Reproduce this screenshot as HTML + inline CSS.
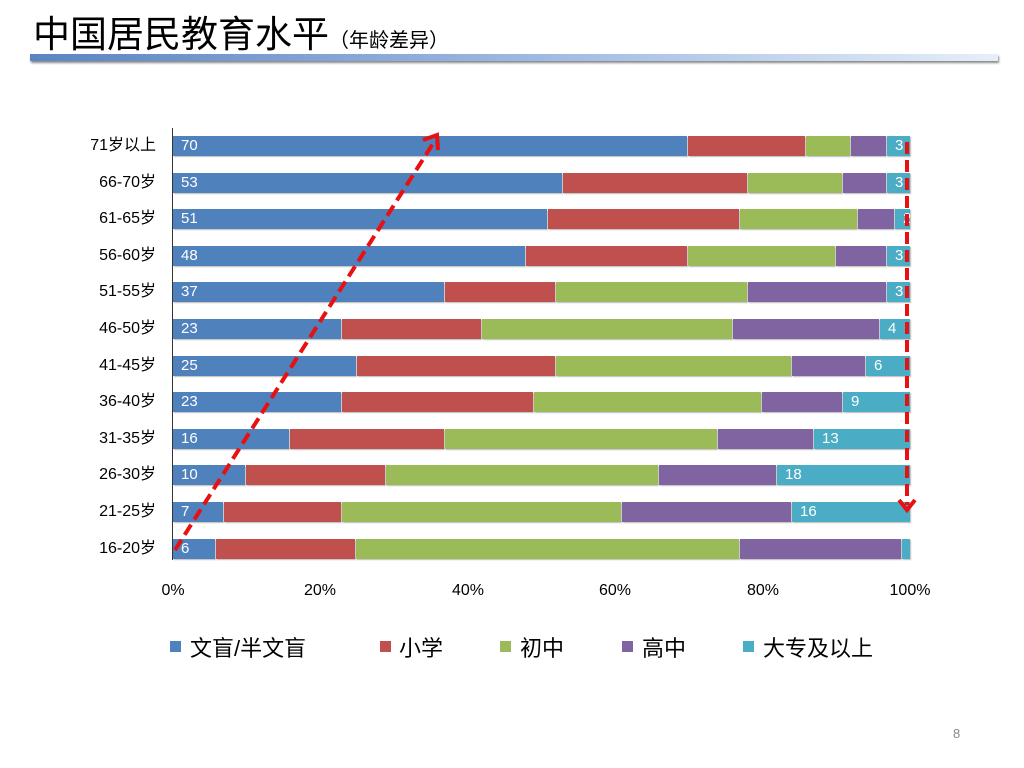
<!DOCTYPE html>
<html><head><meta charset="utf-8"><style>
body{margin:0;width:1024px;height:768px;background:#fff;position:relative;overflow:hidden;font-family:"Liberation Sans","Noto Sans CJK SC",sans-serif}
.t{position:absolute;white-space:nowrap}
.s{position:absolute;height:20px;box-shadow:1px 1px 1px #bbb}
.l{position:absolute;color:#fff;font-size:15px;line-height:20px}
.y{position:absolute;right:868px;font-size:16px;line-height:20px;text-align:right}
.x{position:absolute;top:582px;font-size:16px;width:60px;text-align:center}
.lg{position:absolute;top:641px;width:11px;height:11px}
.lt{position:absolute;top:631px;font-size:22px}
</style></head><body>
<div class="t" style="left:33px;top:7px;font-size:37px;font-family:'Noto Sans CJK SC',sans-serif;line-height:48px">中国居民教育水平<span style="font-size:20px">（年龄差异）</span></div>
<div style="position:absolute;left:30px;top:54px;width:968px;height:7px;background:linear-gradient(90deg,#5b84c4,#a9c2e6 60%,#e6eef8);box-shadow:1px 2px 2px #888"></div>
<div style="position:absolute;left:172px;top:128px;width:1px;height:432px;background:#333"></div>
<div id="c"></div>
<div class="x" style="left:143px">0%</div><div class="x" style="left:290px">20%</div><div class="x" style="left:438px">40%</div><div class="x" style="left:585px">60%</div><div class="x" style="left:733px">80%</div><div class="x" style="left:880px">100%</div>
<div class="lg" style="left:170px;background:#4f81bd"></div><div class="lt" style="left:190px">文盲/半文盲</div>
<div class="lg" style="left:380px;background:#c0504d"></div><div class="lt" style="left:399px">小学</div>
<div class="lg" style="left:500px;background:#9bbb59"></div><div class="lt" style="left:520px">初中</div>
<div class="lg" style="left:622px;background:#8064a2"></div><div class="lt" style="left:642px">高中</div>
<div class="lg" style="left:743px;background:#4bacc6"></div><div class="lt" style="left:763px">大专及以上</div>
<div class="t" style="left:953px;top:726px;font-size:13px;color:#888">8</div>
<svg style="position:absolute;left:0;top:0" width="1024" height="768">
<line x1="175" y1="550" x2="434" y2="142" stroke="#e81010" stroke-width="4" stroke-dasharray="12,6"/>
<polyline points="423,140 437,135 438,150" fill="none" stroke="#e81010" stroke-width="4"/>
<line x1="907" y1="142" x2="907" y2="505" stroke="#e81010" stroke-width="4" stroke-dasharray="12,6"/>
<polyline points="899,500 907,510 915,500" fill="none" stroke="#e81010" stroke-width="4"/>
</svg>
<script>
var rows=[["71岁以上",[688,806,851,887],70,3],["66-70岁",[563,748,843,887],53,3],["61-65岁",[548,740,858,895],51,2],["56-60岁",[526,688,836,887],48,3],["51-55岁",[445,556,748,887],37,3],["46-50岁",[342,482,733,880],23,4],["41-45岁",[357,556,792,866],25,6],["36-40岁",[342,534,762,843],23,9],["31-35岁",[290,445,718,814],16,13],["26-30岁",[246,386,659,777],10,18],["21-25岁",[224,342,622,792],7,16],["16-20岁",[216,356,740,902],6,1]];
var col=["#4f81bd","#c0504d","#9bbb59","#8064a2","#4bacc6"],h="";
rows.forEach(function(r,i){var top=Math.round(136+i*36.6);var b=[173].concat(r[1]).concat([910]);
for(var k=0;k<5;k++){h+='<div class="s" style="left:'+b[k]+'px;top:'+top+'px;width:'+(b[k+1]-b[k]-(k<4?1:0))+'px;background:'+col[k]+'"></div>';}
h+='<div class="l" style="left:181px;top:'+top+'px">'+r[2]+'</div>';
h+='<div class="l" style="left:'+(b[4]+8)+'px;top:'+top+'px;width:'+(910-b[4]-8)+'px;overflow:hidden">'+r[3]+'</div>';
h+='<div class="y" style="top:'+top+'px">'+r[0]+'</div>';});
document.getElementById("c").innerHTML=h;
</script>
</body></html>
